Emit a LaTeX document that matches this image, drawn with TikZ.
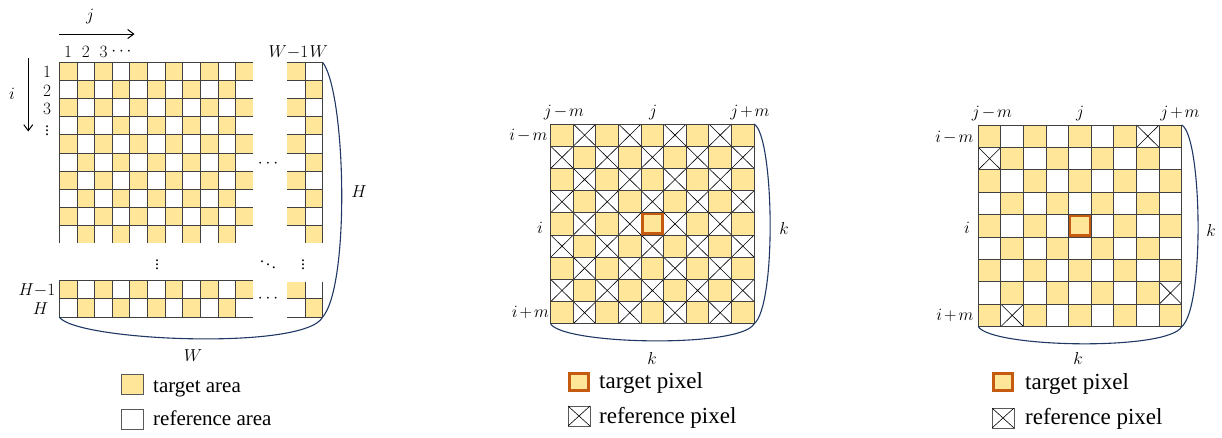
\documentclass[tikz,border=0pt]{standalone}
\usepackage{fontspec}
\setmainfont{Liberation Serif}
\usetikzlibrary{arrows.meta}
\definecolor{cellY}{RGB}{255,230,153}
\definecolor{tgtO}{RGB}{197,90,17}
\definecolor{brc}{RGB}{31,56,100}
\newcommand{\mymin}{\mkern2mu{-}\mkern2mu}
\newcommand{\myplus}{\mkern2mu{+}\mkern2mu}
\tikzset{
  gridline/.style={draw=black!75, line width=0.9pt},
  xline/.style={draw=black, line width=0.6pt},
  brace/.style={draw=brc, line width=1.1pt},
  arr/.style={draw=black, line width=1pt, -{Straight Barb[length=6pt,width=9pt]}},
  mlab/.style={font=\fontsize{16}{18}\selectfont, inner sep=0pt},
  mlabb/.style={font=\fontsize{17}{19}\selectfont, inner sep=0pt},
  legA/.style={font=\fontsize{21}{24}\selectfont, inner sep=0pt, anchor=base west},
  legB/.style={font=\fontsize{23}{26}\selectfont, inner sep=0pt, anchor=base west},
  tgt/.style={draw=tgtO, line width=2.6pt},
  legbox/.style={draw=black!65, line width=1pt},
}
\begin{document}
\begin{tikzpicture}[x=1pt,y=-1pt]
\useasboundingbox (0,0) rectangle (1222,437);
%%%%%%%%%%%%%%%% LEFT %%%%%%%%%%%%%%%%
\def\lx{59.3}\def\ly{62.7}\def\lw{17.65}\def\lh{18.05}
\def\rx{287.3}\def\rw{17.7}
\def\by{280}\def\bh{18.5}
% main block fills
\foreach \r in {1,...,10}{\foreach \c in {1,...,11}{
  \pgfmathtruncatemacro\pp{mod(\r+\c,2)}
  \ifnum\pp=0 \fill[cellY] ({\lx+(\c-1)*\lw},{\ly+(\r-1)*\lh}) rectangle ++(\lw,\lh);\fi}}
% right block fills
\foreach \r in {1,...,10}{
  \pgfmathtruncatemacro\pp{mod(\r,2)}
  \ifnum\pp=1 \fill[cellY] (\rx,{\ly+(\r-1)*\lh}) rectangle ++(\rw,\lh);
  \else \fill[cellY] ({\rx+\rw},{\ly+(\r-1)*\lh}) rectangle ++(\rw,\lh);\fi}
% bottom fills
\foreach \c in {1,3,...,11} \fill[cellY] ({\lx+(\c-1)*\lw},\by) rectangle ++(\lw,\bh);
\foreach \c in {2,4,...,10} \fill[cellY] ({\lx+(\c-1)*\lw},{\by+\bh}) rectangle ++(\lw,\bh);
\fill[cellY] (\rx,281.7) rectangle ({\rx+\rw},{\by+\bh});
\fill[cellY] ({\rx+\rw},{\by+\bh}) rectangle ++(\rw,\bh);
% lines
\foreach \k in {0,...,9} \draw[gridline] (\lx,{\ly+\k*\lh}) -- ++({11*\lw},0);
\foreach \k in {0,...,10} \draw[gridline] ({\lx+\k*\lw},\ly) -- ++(0,{10*\lh});
\foreach \k in {0,...,9} \draw[gridline] (\rx,{\ly+\k*\lh}) -- ++({2*\rw},0);
\foreach \k in {1,2} \draw[gridline] ({\rx+\k*\rw},\ly) -- ++(0,{10*\lh});
\foreach \k in {0,1,2} \draw[gridline] (\lx,{\by+\k*\bh}) -- ++({11*\lw},0);
\foreach \k in {0,...,10} \draw[gridline] ({\lx+\k*\lw},\by) -- ++(0,{2*\bh});
\foreach \k in {1,2} \draw[gridline] (\rx,{\by+\k*\bh}) -- ++({2*\rw},0);
\foreach \k in {1,2} \draw[gridline] ({\rx+\k*\rw},281.7) -- ({\rx+\k*\rw},{\by+2*\bh});
% arrows
\coordinate (ja) at (59,34); \coordinate (jb) at (134.5,34);
\coordinate (ia) at (28.3,58); \coordinate (ib) at (28.3,131.5);
\draw[arr] (ja) -- (jb);
\draw[arr] (ia) -- (ib);
\node[mlab] (labj) at (90,16.5) {$j$};
\node[mlab] (labi) at (12,94) {$i$};
% column labels
\node[mlab, anchor=base] (c1) at (68.2,57) {$1$};
\node[mlab, anchor=base] (c2) at (85.8,57) {$2$};
\node[mlab, anchor=base] (c3) at (103.5,57) {$3$};
\node[mlab, anchor=base] (c4) at (121.5,55) {$\cdots$};
\node[mlab, anchor=base east] (cw1) at (308.5,57) {$W{-}1$};
\node[mlab, anchor=base west] (cw) at (309.5,57) {$W$};
% row labels
\node[mlab] (r1) at (47,72) {$1$};
\node[mlab] (r2) at (47,90.7) {$2$};
\node[mlab] (r3) at (47,109) {$3$};
\node[mlab] (r4) at (47,128) {$\vdots$};
\node[mlab, anchor=east] (rh1) at (55.5,290) {$H{-}1$};
\node[mlab, anchor=east] (rh) at (48.5,309) {$H$};
% dots
\node[mlab] (d1) at (157,262) {$\vdots$};
\node[mlab] (d2) at (268,262) {$\ddots$};
\node[mlab] (d3) at (303,262) {$\vdots$};
\node[mlab] (d4) at (268,164) {$\cdots$};
\node[mlab] (d5) at (268,299) {$\cdots$};
% braces
\coordinate (LTR) at (323,62.7); \coordinate (LBR) at (322.7,317); \coordinate (LBL) at (59.3,317);
\draw[brace] (LTR) .. controls (346,95) and (350,285) .. (LBR);
\draw[brace] (LBL) .. controls (75,341) and (305,351) .. (LBR);
\node[mlab] (labH) at (359,192) {$H$};
\node[mlab] (labW) at (193,356) {$W$};
% legend
\draw[legbox, fill=cellY] (121,374) rectangle (143,394);
\node[legA] (legta) at (153,392) {target area};
\draw[legbox, fill=white] (121,409) rectangle (143,429);
\node[legA] (legra) at (153,425) {reference area};
%%%%%%%%%%%%%%%% MIDDLE %%%%%%%%%%%%%%%%
\def\mx{550.7}\def\my{124}\def\mw{22.6}\def\mh{22.2}
\foreach \r in {0,...,8}{\foreach \c in {0,...,8}{
  \pgfmathtruncatemacro\pp{mod(\r+\c,2)}
  \ifnum\pp=0 \fill[cellY] ({\mx+\c*\mw},{\my+\r*\mh}) rectangle ++(\mw,\mh);
  \else \draw[xline] ({\mx+\c*\mw},{\my+\r*\mh}) -- ++(\mw,\mh) ({\mx+(\c+1)*\mw},{\my+\r*\mh}) -- ++(-\mw,\mh);\fi}}
\foreach \k in {0,...,9} \draw[gridline] (\mx,{\my+\k*\mh}) -- ++({9*\mw},0);
\foreach \k in {0,...,9} \draw[gridline] ({\mx+\k*\mw},\my) -- ++(0,{9*\mh});
\draw[tgt] ({\mx+4*\mw+1.3},{\my+4*\mh+1.3}) rectangle ({\mx+5*\mw-1.3},{\my+5*\mh-1.3});
\node[mlabb, anchor=base] (mj1) at (564,116.5) {$j\mymin m$};
\node[mlabb, anchor=base] (mj2) at (653,116.5) {$j$};
\node[mlabb, anchor=base] (mj3) at (750,116.5) {$j\myplus m$};
\node[mlabb, anchor=base east] (mi1) at (547.5,140.5) {$i\mymin m$};
\node[mlabb, anchor=base east] (mi2) at (543,233) {$i$};
\node[mlabb, anchor=base east] (mi3) at (549,317) {$i\myplus m$};
\coordinate (MTR) at (754,124); \coordinate (MBR) at (754,324); \coordinate (MBL) at (550.7,324);
\draw[brace] (MTR) .. controls (774,135) and (777,305) .. (MBR);
\draw[brace] (MBL) .. controls (565,345) and (740,348) .. (MBR);
\node[mlabb] (mk1) at (784,228) {$k$};
\node[mlabb] (mk2) at (652,358) {$k$};
\fill[cellY] (568,372) rectangle (590,392);
\draw[tgt] (569.3,373.3) rectangle (588.7,390.7);
\node[legB] (mlegt) at (599,388.5) {target pixel};
\draw[legbox] (568,406) rectangle (590,426);
\draw[xline] (568,406) -- (590,426) (590,406) -- (568,426);
\node[legB] (mlegr) at (599,423.3) {reference pixel};
%%%%%%%%%%%%%%%% RIGHT %%%%%%%%%%%%%%%%
\def\qx{978.3}\def\qy{125}\def\qw{22.6}\def\qh{22.4}
\foreach \r in {0,...,8}{\foreach \c in {0,...,8}{
  \pgfmathtruncatemacro\pp{mod(\r+\c,2)}
  \ifnum\pp=0 \fill[cellY] ({\qx+\c*\qw},{\qy+\r*\qh}) rectangle ++(\qw,\qh);\fi}}
\foreach \r/\c in {0/7,1/0,7/8,8/1}
  \draw[xline] ({\qx+\c*\qw},{\qy+\r*\qh}) -- ++(\qw,\qh) ({\qx+(\c+1)*\qw},{\qy+\r*\qh}) -- ++(-\qw,\qh);
\foreach \k in {0,...,9} \draw[gridline] (\qx,{\qy+\k*\qh}) -- ++({9*\qw},0);
\foreach \k in {0,...,9} \draw[gridline] ({\qx+\k*\qw},\qy) -- ++(0,{9*\qh});
\draw[tgt] ({\qx+4*\qw+1.3},{\qy+4*\qh+1.3}) rectangle ({\qx+5*\qw-1.3},{\qy+5*\qh-1.3});
\node[mlabb, anchor=base] (qj1) at (992,117.5) {$j\mymin m$};
\node[mlabb, anchor=base] (qj2) at (1080,117.5) {$j$};
\node[mlabb, anchor=base] (qj3) at (1180,117.5) {$j\myplus m$};
\node[mlabb, anchor=base east] (qi1) at (973.5,142) {$i\mymin m$};
\node[mlabb, anchor=base east] (qi2) at (970,233.3) {$i$};
\node[mlabb, anchor=base east] (qi3) at (973.5,320) {$i\myplus m$};
\coordinate (QTR) at (1181.7,125); \coordinate (QBR) at (1181.7,326.7); \coordinate (QBL) at (978.3,326.7);
\draw[brace] (QTR) .. controls (1202,136) and (1205,307) .. (QBR);
\draw[brace] (QBL) .. controls (992,348) and (1168,351) .. (QBR);
\node[mlabb] (qk1) at (1211,230) {$k$};
\node[mlabb] (qk2) at (1078,358) {$k$};
\fill[cellY] (992,372) rectangle (1014,392);
\draw[tgt] (993.3,373.3) rectangle (1012.7,390.7);
\node[legB] (qlegt) at (1025,389.3) {target pixel};
\draw[legbox] (992,408) rectangle (1014,428);
\draw[xline] (992,408) -- (1014,428) (1014,408) -- (992,428);
\node[legB] (qlegr) at (1025,424) {reference pixel};
\end{tikzpicture}
\end{document}
